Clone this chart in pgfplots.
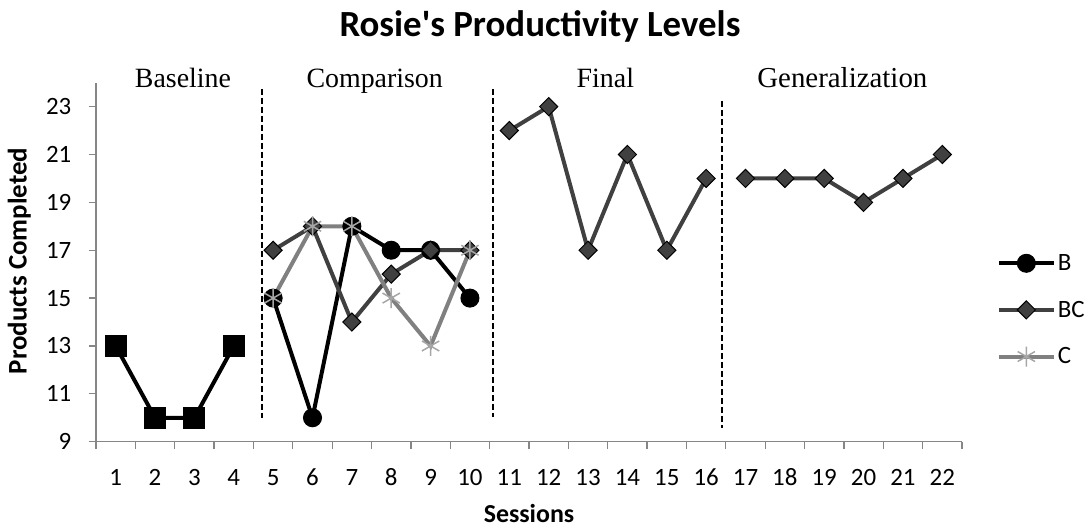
\documentclass[border=0pt]{standalone}
\usepackage{fontspec}
\setmainfont{Carlito}
\newfontfamily\titlefont{Carlito}
\newfontfamily\timesfont{Liberation Serif}
\usepackage{pgfplots}
\pgfplotsset{compat=1.18}
\definecolor{axisgray}{HTML}{868686}
\definecolor{bcgray}{HTML}{404040}
\definecolor{cgray}{HTML}{808080}
\definecolor{cmark}{HTML}{A6A6A6}
\begin{document}
\begin{tikzpicture}
\useasboundingbox (-96bp,-85.3bp) rectangle (990bp,441.7bp);
\begin{axis}[
  at={(0,0)}, anchor=south west,
  scale only axis, width=866bp, height=359bp,
  xmin=0.5, xmax=22.5, ymin=9, ymax=24,
  axis x line*=bottom, axis y line*=left,
  axis line style={axisgray, line width=1.3bp},
  xtick={0.5,1.5,2.5,3.5,4.5,5.5,6.5,7.5,8.5,9.5,10.5,11.5,12.5,13.5,14.5,15.5,16.5,17.5,18.5,19.5,20.5,21.5,22.5},
  xticklabels={1,2,3,4,5,6,7,8,9,10,11,12,13,14,15,16,17,18,19,20,21,22},
  x tick label as interval,
  ytick={9,11,13,15,17,19,21,23},
  tick align=outside,
  every tick/.style={axisgray, line width=1.3bp},
  major tick length=7.5bp,
  tick label style={font=\fontsize{25}{30}\selectfont, text=black},
  /pgf/number format/assume math mode=true,
  xticklabel style={anchor=base, yshift=-36bp, inner sep=0pt},
  yticklabel style={anchor=east, xshift=-17bp, inner sep=0pt},
  clip=false,
  legend style={at={(1.04,0.367)}, anchor=west, draw=none, fill=none,
    font=\fontsize{25}{30}\selectfont, row sep=25bp, inner sep=0pt,
    nodes={inner sep=2bp}, cells={anchor=west}},
  legend image code/.code={\draw[mark repeat=2,mark phase=2] plot coordinates {(0bp,0bp)(27.5bp,0bp)(55bp,0bp)};},
]
\addplot[black, line width=4bp, mark=square*, mark size=10.5bp, mark options={line width=1bp}, forget plot]
  coordinates {(1,13)(2,10)(3,10)(4,13)};
\addplot[black, line width=4bp, mark=*, mark size=9bp, mark options={line width=1bp}]
  coordinates {(5,15)(6,10)(7,18)(8,17)(9,17)(10,15)};
\addlegendentry{B}
\addplot[bcgray, line width=4bp, mark=square*, mark size=6.4bp,
  mark options={rotate=45, fill=bcgray, draw=black, line width=1bp}, unbounded coords=jump]
  coordinates {(5,17)(6,18)(7,14)(8,16)(9,17)(10,17)(10.5,nan)
  (11,22)(12,23)(13,17)(14,21)(15,17)(16,20)(16.5,nan)
  (17,20)(18,20)(19,20)(20,19)(21,20)(22,21)};
\addlegendentry{BC}
\addplot[cgray, line width=4bp, mark=asterisk, mark size=10bp, mark options={cmark, line width=1.5bp}]
  coordinates {(5,15)(6,18)(7,18)(8,15)(9,13)(10,17)};
\addlegendentry{C}
\draw[black, line width=2bp, dash pattern=on 6bp off 3bp] (axis cs:4.71,23.74) -- (axis cs:4.71,9.99);
\draw[black, line width=2bp, dash pattern=on 6bp off 3bp] (axis cs:10.58,23.74) -- (axis cs:10.58,10.03);
\draw[black, line width=2bp, dash pattern=on 6bp off 3bp] (axis cs:16.41,23.24) -- (axis cs:16.41,9.57);
\node[font=\timesfont\fontsize{28}{30}\selectfont, anchor=base] at (axis cs:2.71,23.79) {Baseline};
\node[font=\timesfont\fontsize{28}{30}\selectfont, anchor=base] at (axis cs:7.58,23.79) {Comparison};
\node[font=\timesfont\fontsize{28}{30}\selectfont, anchor=base] at (axis cs:13.44,23.79) {Final};
\node[font=\timesfont\fontsize{29}{30}\selectfont, anchor=base] at (axis cs:19.46,23.79) {Generalization};
\node[font=\titlefont\bfseries\fontsize{37}{42}\selectfont, anchor=base] at (rel axis cs:0.5127,1.1273) {Rosie's Productivity Levels};
\node[font=\bfseries\fontsize{27}{30}\selectfont, rotate=90, anchor=base] at (rel axis cs:-0.080,0.503) {Products Completed};
\node[font=\bfseries\fontsize{26}{30}\selectfont, anchor=base] at (rel axis cs:0.5,-0.2237) {Sessions};
\end{axis}
\end{tikzpicture}
\end{document}
